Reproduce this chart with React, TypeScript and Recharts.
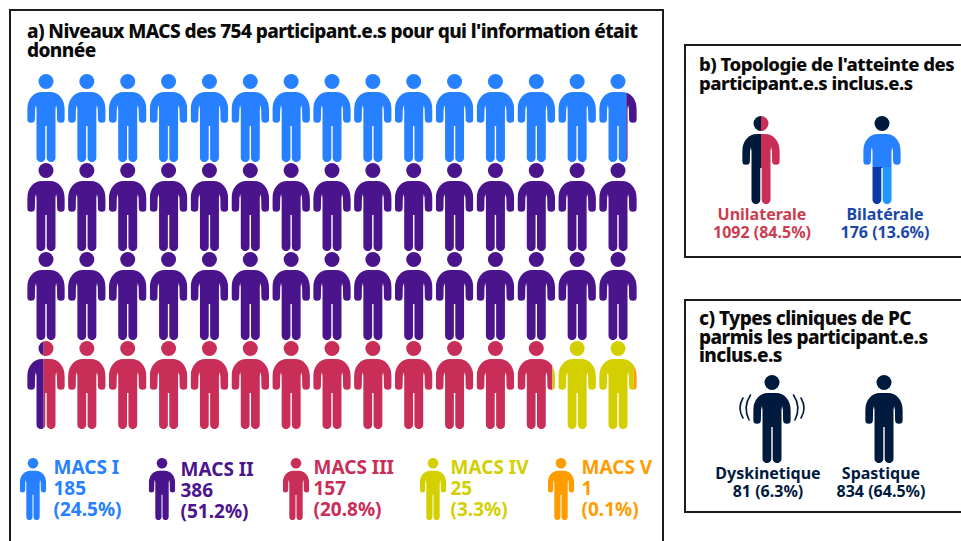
import React, { useId } from 'react';
import { ScatterChart, Scatter, XAxis, YAxis } from 'recharts';

// ---------- data ----------
const macsLabels = ['MACS I', 'MACS II', 'MACS III', 'MACS IV', 'MACS V'];
const macsCounts = [185, 386, 157, 25, 1];
const macsPercents = ['(24.5%)', '(51.2%)', '(20.8%)', '(3.3%)', '(0.1%)'];
const totalParticipants = 754;
const gridColumns = 15;
const gridRows = 4;

const topologyLabels = ['Unilaterale', 'Bilatérale'];
const topologyValues = ['1092 (84.5%)', '176 (13.6%)'];
const clinicalLabels = ['Dyskinetique', 'Spastique'];
const clinicalValues = ['81 (6.3%)', '834 (64.5%)'];

// ---------- styles ----------
const macsColors = ['#2680ff', '#4a148c', '#c92e58', '#d4cf00', '#ff9c00'];
const NAVY = '#001a3d';
const FONT = '"Noto Sans", sans-serif';

// glyph: origin at figure centre, 88 tall and 37.6 wide at scale 1
const GH = 88;
const GW = 37.6;
const BODY =
  'M0 -26 L4 -26 C12.5 -26 18.8 -19 18.8 -8 L18.8 1 A3.85 3.85 0 0 1 11.1 1 L10.9 -9 L10.1 -13 L9.5 -9 ' +
  'L9.5 39.7 A4.4 4.4 0 0 1 0.7 39.7 L0.7 8 L-0.7 8 L-0.7 39.7 A4.4 4.4 0 0 1 -9.5 39.7 L-9.5 -9 ' +
  'L-10.1 -13 L-10.9 -9 L-11.1 1 A3.85 3.85 0 0 1 -18.8 1 L-18.8 -8 C-18.8 -19 -12.5 -26 -4 -26 Z';
const HEAD_CY = -36.5;
const HEAD_R = 7.5;

type Part = { fill: string; x0: number; x1: number; y0?: number; y1?: number };

function Person({ cx, cy, parts, scale = 1, tremor = false }: { cx: number; cy: number; parts: Part[]; scale?: number; tremor?: boolean }) {
  const id = useId().replace(/[^a-zA-Z0-9]/g, '');
  return (
    <g transform={`translate(${cx} ${cy}) scale(${scale})`}>
      {parts.map((p, i) => {
        const y0 = p.y0 ?? 0;
        const y1 = p.y1 ?? 1;
        return (
          <g key={i}>
            <clipPath id={`${id}c${i}`}>
              <rect x={-GW / 2 + p.x0 * GW} y={-GH / 2 + y0 * GH} width={(p.x1 - p.x0) * GW} height={(y1 - y0) * GH} />
            </clipPath>
            <g clipPath={`url(#${id}c${i})`} fill={p.fill}>
              <circle cx={0} cy={HEAD_CY} r={HEAD_R} />
              <path d={BODY} />
            </g>
          </g>
        );
      })}
      {tremor && (
        <g fill="none" stroke={NAVY} strokeWidth={1.6} strokeLinecap="round">
          <path d="M-21.5 -24 Q-29.5 -12 -23 1" />
          <path d="M-29 -21 Q-35 -11 -29 -1" />
          <path d="M21.5 -24 Q29.5 -12 23 1" />
          <path d="M29 -21 Q35 -11 29 -1" />
        </g>
      )}
    </g>
  );
}

// ---------- tables built from the data ----------
const unit = totalParticipants / (gridColumns * gridRows);
const cumulative = macsCounts.map((_, i) => macsCounts.slice(0, i + 1).reduce((a, b) => a + b, 0));

const gridData = Array.from({ length: gridColumns * gridRows }, (_, n) => {
  const start = n * unit;
  const end = (n + 1) * unit;
  const parts: Part[] = [];
  macsCounts.forEach((_, k) => {
    const lo = Math.max(start, k === 0 ? 0 : cumulative[k - 1]);
    const hi = Math.min(end, cumulative[k]);
    if (hi > lo) parts.push({ fill: macsColors[k], x0: (lo - start) / unit, x1: (hi - start) / unit });
  });
  return { col: n % gridColumns, row: Math.floor(n / gridColumns), parts };
});

const legendData = macsLabels.map((label, i) => ({
  idx: i,
  y: 0,
  label,
  count: String(macsCounts[i]),
  pct: macsPercents[i],
  color: macsColors[i],
}));

const RED_TEXT = '#cc3d50';
const BLUE_TEXT = '#1a47a8';
const topologyData = topologyLabels.map((label, i) => ({
  idx: i,
  y: 0,
  label,
  value: topologyValues[i],
  color: i === 0 ? RED_TEXT : BLUE_TEXT,
  parts:
    i === 0
      ? [
          { fill: NAVY, x0: 0, x1: 0.5 },
          { fill: macsColors[2], x0: 0.5, x1: 1 },
        ]
      : [
          { fill: NAVY, x0: 0, x1: 1, y0: 0, y1: 0.19 },
          { fill: macsColors[0], x0: 0, x1: 1, y0: 0.19, y1: 0.58 },
          { fill: '#0a3aa8', x0: 0, x1: 0.5, y0: 0.58, y1: 1 },
          { fill: '#2196ff', x0: 0.5, x1: 1, y0: 0.58, y1: 1 },
        ],
}));

const clinicalData = clinicalLabels.map((label, i) => ({
  idx: i,
  y: 0,
  label,
  value: clinicalValues[i],
  color: NAVY,
  tremor: i === 0,
  parts: [{ fill: NAVY, x0: 0, x1: 1 }],
}));

// ---------- shapes ----------
const GridShape = (p: any) => <Person cx={p.cx} cy={p.cy} parts={p.payload.parts} />;

// small per-entry optical nudges of the legend in the reference
const legendNudge = [0, -3, -1, 4, 0];
const legendTextDx = [20.5, 18.5, 17.5, 17.5, 20.5];
const legendTextDy = [0, 2, 0, 0, 0];

const LegendShape = (p: any) => {
  const d = p.payload;
  const cx = p.cx + legendNudge[d.idx];
  const tx = cx + legendTextDx[d.idx];
  const ty = p.cy + legendTextDy[d.idx];
  return (
    <g>
      <Person cx={cx} cy={p.cy} scale={0.705} parts={[{ fill: d.color, x0: 0, x1: 1 }]} />
      <text x={tx} fontFamily={FONT} fontWeight={700} fontSize={19} fill={d.color}>
        <tspan x={tx} y={ty - 15}>{d.label}</tspan>
        <tspan x={tx} y={ty + 6}>{d.count}</tspan>
        <tspan x={tx} y={ty + 27}>{d.pct}</tspan>
      </text>
    </g>
  );
};

const SmallPanelShape = (textDx: number[]) => (p: any) => {
  const d = p.payload;
  const tx = p.cx + textDx[d.idx];
  return (
    <g>
      <Person cx={p.cx} cy={p.cy} parts={d.parts} tremor={d.tremor} />
      <text fontFamily={FONT} fontWeight={700} fontSize={16} fill={d.color} textAnchor="middle">
        <tspan x={tx} y={p.cy + 60}>{d.label}</tspan>
        <tspan x={tx} y={p.cy + 78}>{d.value}</tspan>
      </text>
    </g>
  );
};

// ---------- layout helpers ----------
const W = 961;
const H = 541;
const chartStyle: React.CSSProperties = { position: 'absolute', left: 0, top: 0 };

const Frame = ({ left, top, right, bottom }: { left: number; top: number; right: number; bottom: number }) => (
  <div
    style={{
      position: 'absolute',
      left,
      top,
      width: right - left,
      height: bottom - top,
      boxSizing: 'border-box',
      border: '2.5px solid #1c1c1c',
      background: '#fff',
    }}
  />
);

const Title = ({ left, top, lines, size = 18.5, spacing = -0.5 }: { left: number; top: number; lines: string[]; size?: number; spacing?: number }) => (
  <div
    style={{
      position: 'absolute',
      left,
      top,
      fontFamily: FONT,
      fontWeight: 800,
      fontSize: size,
      lineHeight: '18.5px',
      letterSpacing: spacing,
      color: '#0a0a0a',
      whiteSpace: 'nowrap',
    }}
  >
    {lines.map((l) => (
      <div key={l}>{l}</div>
    ))}
  </div>
);

const Pic = ({ data, shape, xDomain, margin, xKey = 'col', yKey = 'row', yDomain }: any) => (
  <ScatterChart width={W} height={H} margin={margin} style={chartStyle}>
    <XAxis type="number" dataKey={xKey} domain={xDomain} hide />
    <YAxis type="number" dataKey={yKey} domain={yDomain} reversed hide />
    <Scatter data={data} shape={shape} isAnimationActive={false} />
  </ScatterChart>
);

export default function App() {
  return (
    <div style={{ position: 'absolute', left: 0, top: 0, width: W, height: H, overflow: 'hidden', background: '#fff' }}>
      <Frame left={9} top={9} right={664} bottom={560} />
      <Frame left={684} top={44} right={975} bottom={258} />
      <Frame left={684} top={299} right={975} bottom={513} />

      <Title left={27} top={22} size={19} spacing={-0.6} lines={["a) Niveaux MACS des 754 participant.e.s pour qui l'information était", 'donnée']} />
      <Title left={699} top={55} lines={["b) Topologie de l'atteinte des", 'participant.e.s inclus.e.s']} />
      <Title left={699} top={309} size={19} spacing={-0.56} lines={['c) Types cliniques de PC', 'parmis les participant.e.s', 'inclus.e.s']} />

      <Pic
        data={gridData}
        shape={GridShape}
        xDomain={[0, gridColumns - 1]}
        yDomain={[0, gridRows - 1]}
        margin={{ left: 46, right: W - 618, top: 118, bottom: H - 385 }}
      />
      <Pic
        data={legendData}
        shape={LegendShape}
        xKey="idx"
        yKey="y"
        xDomain={[0, 4]}
        yDomain={[-1, 1]}
        margin={{ left: 33, right: W - 561, top: 479, bottom: H - 499 }}
      />
      <Pic
        data={topologyData}
        shape={SmallPanelShape([1, 3])}
        xKey="idx"
        yKey="y"
        xDomain={[0, 1]}
        yDomain={[-1, 1]}
        margin={{ left: 761, right: W - 882, top: 150, bottom: H - 170 }}
      />
      <Pic
        data={clinicalData}
        shape={SmallPanelShape([-4, -3])}
        xKey="idx"
        yKey="y"
        xDomain={[0, 1]}
        yDomain={[-1, 1]}
        margin={{ left: 772, right: W - 884, top: 409, bottom: H - 429 }}
      />
    </div>
  );
}
